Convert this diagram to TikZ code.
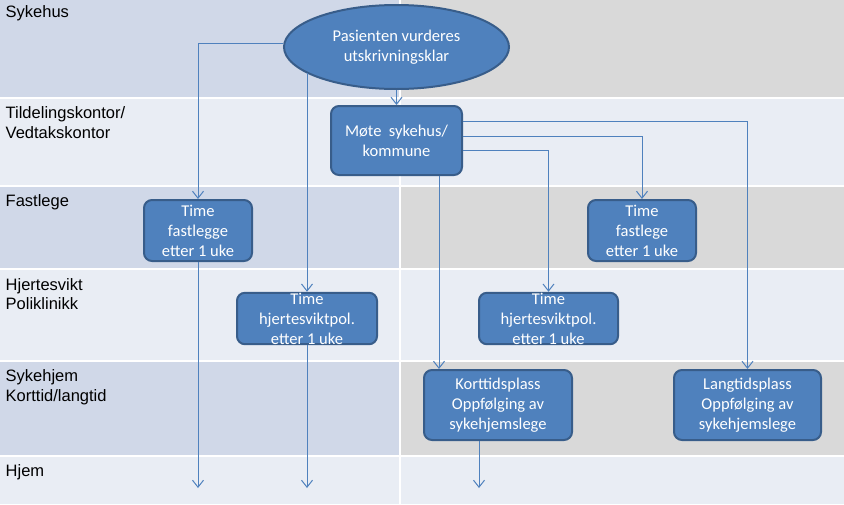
\documentclass[tikz,border=0pt]{standalone}
\usepackage{fontspec}
\setmainfont{Liberation Sans}
\newfontfamily\boxfont{Carlito}
\usepackage{xcolor}
\usepackage{tikz}
\usetikzlibrary{arrows.meta,shapes.geometric}
\definecolor{lanebl}{HTML}{D0D8E8}
\definecolor{lanegr}{HTML}{D9D9D9}
\definecolor{lanelt}{HTML}{E9EDF4}
\definecolor{stepfill}{HTML}{4F81BD}
\definecolor{stepedge}{HTML}{385D8A}
\tikzset{
  lanelbl/.style  = {anchor=north west, inner sep=0pt, align=left, text=black,
                     font=\fontsize{16.5}{19.5}\selectfont},
  stepbox/.style  = {rectangle, rounded corners=8pt, draw=stepedge, line width=2pt,
                     fill=stepfill, text=white, align=center, inner sep=0pt,
                     font=\boxfont\fontsize{16.5}{20}\selectfont},
  stepell/.style  = {ellipse, draw=stepedge, line width=2pt, fill=stepfill,
                     text=white, align=center, inner sep=0pt,
                     font=\boxfont\fontsize{16.5}{20}\selectfont},
  flowarr/.style  = {-{Straight Barb[length=7pt,width=11pt]}, draw=stepfill,
                     line width=1pt},
  lanesep/.style  = {draw=white, line width=2pt},
}
\begin{document}
\begin{tikzpicture}[x=1pt,y=-1pt]
  \useasboundingbox (0,0) rectangle (844,504);

  % swimlanes
  \fill[lanebl] (0,0)     rectangle (400,98);
  \fill[lanegr] (400,0)   rectangle (844,98);
  \fill[lanelt] (0,98)    rectangle (844,186);
  \fill[lanebl] (0,186)   rectangle (400,269);
  \fill[lanegr] (400,186) rectangle (844,269);
  \fill[lanelt] (0,269)   rectangle (844,361);
  \fill[lanebl] (0,361)   rectangle (400,456);
  \fill[lanegr] (400,361) rectangle (844,456);
  \fill[lanelt] (0,456)   rectangle (844,504);
  \draw[lanesep] (0,98) -- (844,98);
  \draw[lanesep] (0,186) -- (844,186);
  \draw[lanesep] (0,269) -- (844,269);
  \draw[lanesep] (0,361) -- (844,361);
  \draw[lanesep] (0,456) -- (844,456);
  \draw[lanesep] (400,0) -- (400,504);

  \node[lanelbl] (lsyk)  at (5.5,5.8)   {Sykehus};
  \node[lanelbl] (ltild) at (5.5,106.8) {Tildelingskontor/\\Vedtakskontor};
  \node[lanelbl] (lfast) at (5.5,194.2) {Fastlege};
  \node[lanelbl] (lhjer) at (5.5,278.2) {Hjertesvikt\\Poliklinikk};
  \node[lanelbl] (lshj)  at (5.5,369.8) {Sykehjem\\Korttid/langtid};
  \node[lanelbl] (lhjem) at (5.5,464.8) {Hjem};

  % steps
  \node[stepell, minimum width=225pt, minimum height=84pt] (ell) at (396.5,47)
        {Pasienten vurderes\\utskrivningsklar};
  \node[stepbox, minimum width=131pt, minimum height=69pt] (mote) at (396.5,140.5)
        {Møte\ \ sykehus/\\kommune};
  \node[stepbox, minimum width=108pt, minimum height=61pt] (fl1) at (198,230.5)
        {Time\\fastlegge\\etter 1 uke};
  \node[stepbox, minimum width=108pt, minimum height=61pt] (fl2) at (642,230.5)
        {Time\\fastlege\\etter 1 uke};
  \node[stepbox, minimum width=140pt, minimum height=51pt] (hp1) at (307,318.5)
        {Time\\hjertesviktpol.\\etter 1 uke};
  \node[stepbox, minimum width=139pt, minimum height=51pt] (hp2) at (548.5,318.5)
        {Time\\hjertesviktpol.\\etter 1 uke};
  \node[stepbox, minimum width=148pt, minimum height=70pt] (kt) at (498,405)
        {Korttidsplass\\Oppfølging av\\sykehjemslege};
  \node[stepbox, minimum width=147pt, minimum height=70pt] (lt) at (747.5,405)
        {Langtidsplass\\Oppfølging av\\sykehjemslege};

  \coordinate (hj1) at (198,488);
  \coordinate (hj2) at (307,488);
  \coordinate (hj3) at (479,488);
  \coordinate (mk)  at ([xshift=42.5pt]mote.south);

  % flow
  \draw[flowarr] (ell.178) -| (fl1.north);
  \draw[flowarr] (ell.196 -| hp1.north) -- (hp1.north);
  \draw[flowarr] (ell.south) -- (mote.north);
  \draw[flowarr] ([yshift=19.5pt]mote.east) -| (lt.north);
  \draw[flowarr] ([yshift=4.5pt]mote.east) -| (fl2.north);
  \draw[flowarr] ([yshift=-9.5pt]mote.east) -| (hp2.north);
  \draw[flowarr] (mk) -- (mk |- kt.north);
  \draw[flowarr] (fl1.south) -- (hj1);
  \draw[flowarr] (hp1.south) -- (hj2);
  \draw[flowarr] (kt.south -| hj3) -- (hj3);
\end{tikzpicture}
\end{document}
